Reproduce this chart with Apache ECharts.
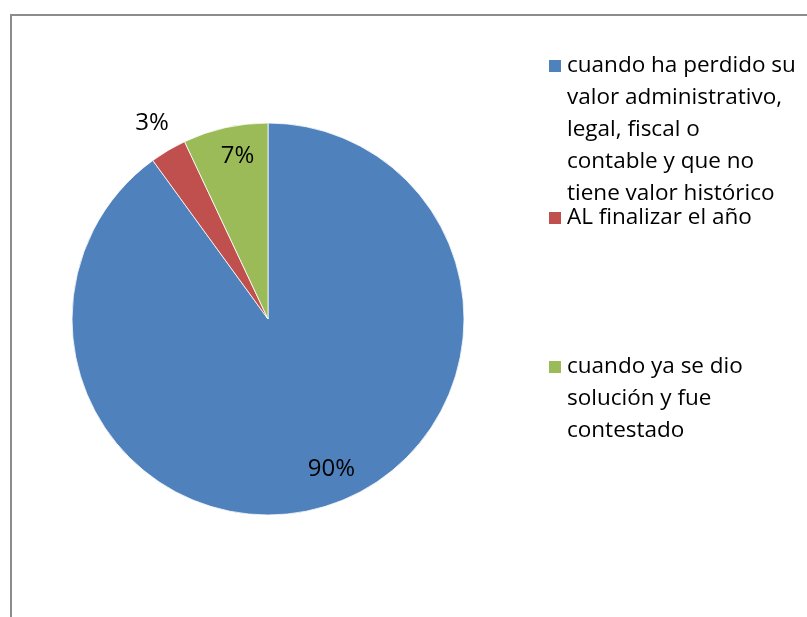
<!DOCTYPE html>
<html>
<head>
<meta charset="utf-8">
<script src="https://cdn.jsdelivr.net/npm/echarts@6/dist/echarts.min.js"></script>
<style>
  html, body { margin: 0; padding: 0; background: #ffffff; }
  #chart { width: 807px; height: 617px; }
</style>
</head>
<body>
<div id="chart"></div>
<script>
// Categories (respuestas) and their shares in percent
const categories = [
  'cuando ha perdido su valor administrativo, legal, fiscal o contable y que no tiene valor histórico',
  'AL finalizar el año',
  'cuando ya se dio solución y fue contestado'
];
const shares = [90, 3, 7];
const colors = ['#4F81BD', '#C0504D', '#9BBB59'];
// Legend text as it wraps in the legend column
const legendWrapped = [
  'cuando ha perdido su\nvalor administrativo,\nlegal, fiscal o\ncontable y que no\ntiene valor histórico',
  'AL finalizar el año',
  'cuando ya se dio\nsolución y fue\ncontestado'
];

const FONT = '"Open Sans", "Noto Sans", sans-serif';
const LEGEND_FONT_SIZE = 22.5;
const LABEL_FONT_SIZE = 24;
const LINE_H = 32;
const CENTER = [268, 319];
const RADIUS = 196;
const ICON = 14;
// top edge of each legend swatch
const swatchTops = [59, 211, 360];
// small nudges for the in-slice percentage labels
const labelNudge = [[13, -5], [0, 0], [5, -4]];

const pieData = categories.map((name, i) => ({
  name: name,
  value: shares[i],
  itemStyle: { color: colors[i] }
}));

// label rings: one for the two large slices, one outside for the small slice
function labelData(showIdx) {
  return categories.map((name, i) => ({
    name: name,
    value: shares[i],
    label: { show: showIdx.indexOf(i) >= 0, offset: labelNudge[i] }
  }));
}
const labelCommon = {
  type: 'pie',
  center: CENTER,
  startAngle: 90,
  silent: true,
  itemStyle: { color: 'rgba(0,0,0,0)', borderWidth: 0 },
  labelLine: { show: false },
  emphasis: { disabled: true },
  label: {
    position: 'inside',
    formatter: '{c}%',
    color: '#000000',
    fontFamily: FONT,
    fontSize: LABEL_FONT_SIZE
  }
};

// Each legend entry is its own block so the swatch sits beside the first text line:
// blank lines are prepended so the vertically-centred text block starts at the swatch.
const legends = categories.map((name, i) => {
  const n = legendWrapped[i].split('\n').length;
  const pad = new Array(n - 1).fill(' ').join('\n');
  const text = (n > 1 ? pad + '\n' : '') + legendWrapped[i];
  const textTop = ICON / 2 - (2 * n - 1) * LINE_H / 2;
  return {
    data: [name],
    orient: 'vertical',
    left: 547,
    top: swatchTops[i] + textTop,
    padding: 0,
    icon: 'rect',
    itemWidth: ICON,
    itemHeight: ICON,
    selectedMode: false,
    formatter: () => text,
    textStyle: {
      fontFamily: FONT,
      fontSize: LEGEND_FONT_SIZE,
      lineHeight: LINE_H,
      color: '#000000'
    }
  };
});

const chart = echarts.init(document.getElementById('chart'), null, { renderer: 'canvas' });
chart.setOption({
  animation: false,
  backgroundColor: '#ffffff',
  graphic: [{
    type: 'rect',
    shape: { x: 11, y: 15, width: 900, height: 700 },
    style: { fill: 'none', stroke: '#8c8c8c', lineWidth: 2 },
    silent: true
  }],
  legend: legends,
  series: [
    {
      type: 'pie',
      center: CENTER,
      radius: [0, RADIUS],
      startAngle: 90,
      data: pieData,
      label: { show: false },
      labelLine: { show: false },
      itemStyle: { borderColor: '#ffffff', borderWidth: 0.8 },
      emphasis: { disabled: true }
    },
    Object.assign({}, labelCommon, { radius: [150, 170], data: labelData([0, 2]) }),
    Object.assign({}, labelCommon, { radius: [215, 235], data: labelData([1]) })
  ]
});
</script>
</body>
</html>
